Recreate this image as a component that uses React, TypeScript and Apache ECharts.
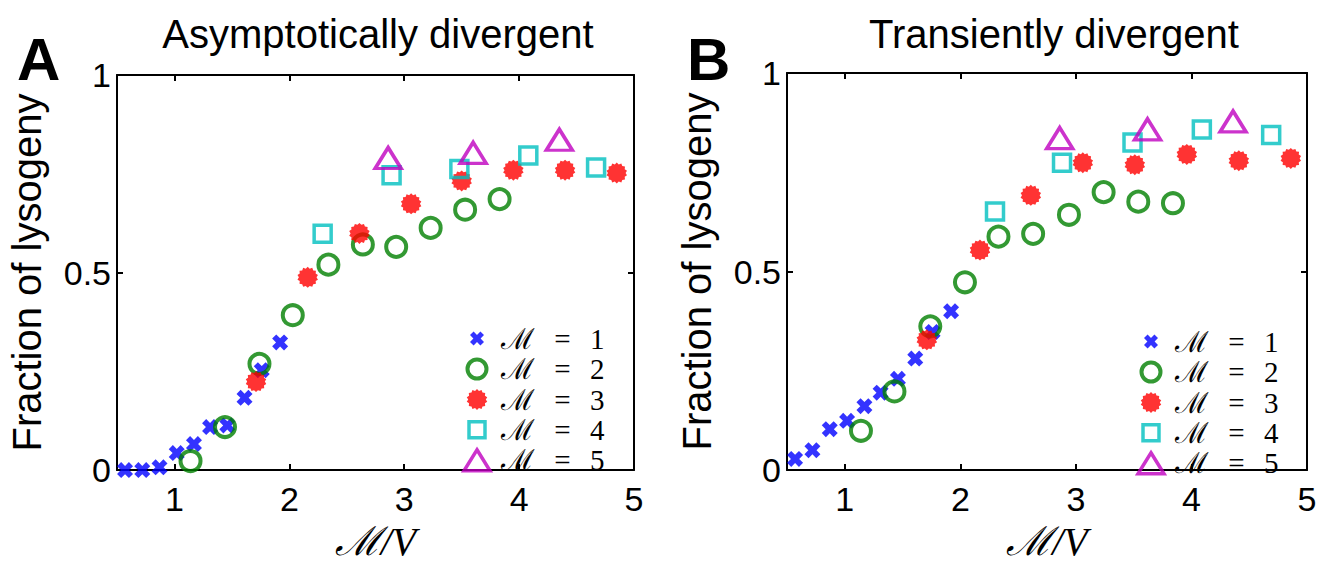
import React, { useEffect, useRef } from "react";
import * as echarts from "echarts";

// ---------- data ----------
const seriesNames = ["ℳ = 1", "ℳ = 2", "ℳ = 3", "ℳ = 4", "ℳ = 5"];
const xTicks = [1, 2, 3, 4, 5];

// Panel A: Asymptotically divergent
const a_m1_x = [0.57, 0.72, 0.87, 1.02, 1.17, 1.31, 1.46, 1.61, 1.76, 1.92];
const a_m1_y = [0.0, 0.0, 0.007, 0.043, 0.066, 0.109, 0.113, 0.183, 0.253, 0.323];
const a_m2_x = [1.14, 1.44, 1.74, 2.03, 2.34, 2.64, 2.93, 3.23, 3.53, 3.83];
const a_m2_y = [0.023, 0.109, 0.269, 0.392, 0.52, 0.571, 0.565, 0.613, 0.659, 0.686];
const a_m3_x = [1.71, 2.16, 2.61, 3.06, 3.5, 3.95, 4.4, 4.85];
const a_m3_y = [0.224, 0.488, 0.599, 0.674, 0.732, 0.759, 0.759, 0.752];
const a_m4_x = [2.29, 2.89, 3.48, 4.08, 4.67];
const a_m4_y = [0.598, 0.746, 0.762, 0.796, 0.766];
const a_m5_x = [2.86, 3.6, 4.35];
const a_m5_y = [0.79, 0.803, 0.836];

// Panel B: Transiently divergent
const b_m1_x = [0.57, 0.72, 0.87, 1.02, 1.17, 1.31, 1.46, 1.61, 1.76, 1.92];
const b_m1_y = [0.028, 0.05, 0.103, 0.124, 0.161, 0.195, 0.23, 0.281, 0.348, 0.4];
const b_m2_x = [1.14, 1.43, 1.74, 2.04, 2.33, 2.63, 2.94, 3.24, 3.54, 3.84];
const b_m2_y = [0.099, 0.198, 0.362, 0.473, 0.588, 0.595, 0.643, 0.7, 0.676, 0.672];
const b_m3_x = [1.71, 2.17, 2.61, 3.06, 3.51, 3.96, 4.41, 4.86];
const b_m3_y = [0.328, 0.554, 0.692, 0.774, 0.769, 0.795, 0.779, 0.785];
const b_m4_x = [2.3, 2.88, 3.49, 4.09, 4.69];
const b_m4_y = [0.651, 0.774, 0.825, 0.858, 0.844];
const b_m5_x = [2.86, 3.62, 4.36];
const b_m5_y = [0.836, 0.858, 0.878];

// ---------- styling ----------
const SANS = "'Liberation Sans', Arial, Helvetica, sans-serif";
const SERIF = "'Liberation Serif', 'DejaVu Serif', serif";

const BLUE = "#0000ff";
const GREEN = "#007f00";
const RED = "#ff0000";
const CYAN = "#00bfbf";
const MAGENTA = "#bf00bf";

const crossPath =
  "path://M0,3.6L3.6,0L7,3.4L10.4,0L14,3.6L10.6,7L14,10.4L10.4,14L7,10.6L3.6,14L0,10.4L3.4,7Z";

function burst(cx: number, cy: number, R: number, r: number): string {
  const n = 14;
  const pts: string[] = [];
  for (let i = 0; i < n * 2; i++) {
    const rad = i % 2 === 0 ? R : r;
    const a = (Math.PI * i) / n;
    pts.push(`${(cx + rad * Math.sin(a)).toFixed(2)},${(cy - rad * Math.cos(a)).toFixed(2)}`);
  }
  return "M" + pts.join("L") + "Z";
}

// legend icons drawn in a 30x26 box (corner moveTo points fix the box)
const BOX = "M0,0M30,26";
const legendIcons = [
  `path://${BOX}M8,9.6L11.6,6L15,9.4L18.4,6L22,9.6L18.6,13L22,16.4L18.4,20L15,16.6L11.6,20L8,16.4L11.4,13Z`,
  `path://${BOX}M5.5,13A9.5,9.5 0 1 1 24.5,13A9.5,9.5 0 1 1 5.5,13Z`,
  `path://${BOX}${burst(15, 13, 10.5, 8.8)}`,
  `path://${BOX}M7,5L23,5L23,21L7,21Z`,
  `path://${BOX}M15,2.5L28,23.5L2,23.5Z`,
];

const styles = [
  { symbol: crossPath, symbolSize: 16, itemStyle: { color: BLUE } },
  {
    symbol: "circle",
    symbolSize: 20,
    itemStyle: { color: "rgba(255,255,255,0)", borderColor: GREEN, borderWidth: 4 },
  },
  { symbol: "path://" + burst(10, 10, 10, 8.4), symbolSize: 21, itemStyle: { color: RED } },
  {
    symbol: "rect",
    symbolSize: 17,
    itemStyle: { color: "rgba(255,255,255,0)", borderColor: CYAN, borderWidth: 3.5 },
  },
  {
    symbol: "triangle",
    symbolSize: [26, 21],
    itemStyle: { color: "rgba(255,255,255,0)", borderColor: MAGENTA, borderWidth: 3.5 },
  },
];

const legendItemStyles = [
  { color: BLUE, borderWidth: 0 },
  { color: "rgba(255,255,255,0)", borderColor: GREEN, borderWidth: 4 },
  { color: RED, borderWidth: 0 },
  { color: "rgba(255,255,255,0)", borderColor: CYAN, borderWidth: 3.5 },
  { color: "rgba(255,255,255,0)", borderColor: MAGENTA, borderWidth: 3.5 },
];

const zip = (xs: number[], ys: number[]) => xs.map((x, i) => [x, ys[i]]);

const panelA = [
  zip(a_m1_x, a_m1_y),
  zip(a_m2_x, a_m2_y),
  zip(a_m3_x, a_m3_y),
  zip(a_m4_x, a_m4_y),
  zip(a_m5_x, a_m5_y),
];
const panelB = [
  zip(b_m1_x, b_m1_y),
  zip(b_m2_x, b_m2_y),
  zip(b_m3_x, b_m3_y),
  zip(b_m4_x, b_m4_y),
  zip(b_m5_x, b_m5_y),
];

const axisLine = { show: true, onZero: false, lineStyle: { color: "#000", width: 2 } };
const tickStyle = { width: 2, color: "#000" };

function xAxes(gridIndex: number) {
  return [
    {
      type: "value",
      gridIndex,
      position: "bottom",
      min: 0.5,
      max: 5,
      axisLine,
      axisTick: { show: true, inside: true, length: 6, customValues: xTicks, lineStyle: tickStyle },
      axisLabel: { customValues: xTicks, fontSize: 34, color: "#000", fontFamily: SANS, margin: 12 },
      splitLine: { show: false },
      name: "ℳ/V",
      nameLocation: "middle",
      nameGap: 46,
      nameTextStyle: { fontSize: 40, fontStyle: "italic", fontFamily: SERIF, color: "#000" },
    },
    {
      type: "value",
      gridIndex,
      position: "top",
      min: 0.5,
      max: 5,
      axisLine,
      axisTick: { show: true, inside: true, length: 6, customValues: xTicks, lineStyle: tickStyle },
      axisLabel: { show: false },
      splitLine: { show: false },
    },
  ];
}

function yAxes(gridIndex: number) {
  return [
    {
      type: "value",
      gridIndex,
      position: "left",
      min: 0,
      max: 1,
      interval: 0.5,
      axisLine,
      axisTick: { show: true, inside: true, length: 6, lineStyle: tickStyle },
      axisLabel: { fontSize: 34, color: "#000", fontFamily: SANS, margin: 6 },
      splitLine: { show: false },
      name: "Fraction of lysogeny",
      nameLocation: "middle",
      nameGap: 70,
      nameRotate: 90,
      nameTextStyle: { fontSize: 40, fontFamily: SANS, color: "#000" },
    },
    {
      type: "value",
      gridIndex,
      position: "right",
      min: 0,
      max: 1,
      interval: 0.5,
      axisLine,
      axisTick: { show: true, inside: true, length: 6, lineStyle: tickStyle },
      axisLabel: { show: false },
      splitLine: { show: false },
    },
  ];
}

function makeSeries(data: number[][][], axisIndex: number) {
  return data.map((d, i) => ({
    type: "scatter",
    name: seriesNames[i],
    xAxisIndex: axisIndex,
    yAxisIndex: axisIndex,
    data: d,
    symbol: styles[i].symbol,
    symbolSize: styles[i].symbolSize,
    symbolKeepAspect: true,
    itemStyle: styles[i].itemStyle,
    z: 2 + i,
  }));
}

function legend(left: number, top: number) {
  return {
    show: true,
    orient: "vertical",
    left,
    top,
    align: "left",
    itemWidth: 30,
    itemHeight: 26,
    itemGap: 1,
    padding: 0,
    selectedMode: false,
    data: seriesNames.map((name, i) => ({
      name,
      icon: legendIcons[i],
      itemStyle: legendItemStyles[i],
    })),
    formatter: (name: string) => name.replace(/ /g, "\u2002\u2006"),
    textStyle: { fontSize: 29, fontFamily: SERIF, color: "#000", padding: [0, 0, 0, 4] },
  };
}

export default function App() {
  const ref = useRef<HTMLDivElement>(null);
  useEffect(() => {
    document.body.style.margin = "0";
    const chart = echarts.init(ref.current!, undefined, { renderer: "svg" });
    chart.setOption({
      animation: false,
      backgroundColor: "#fff",
      title: [
        {
          text: "Asymptotically divergent",
          left: 373,
          top: 9,
          textAlign: "center",
          textStyle: { fontSize: 40, fontWeight: "normal", fontFamily: SANS, color: "#000" },
        },
        {
          text: "Transiently divergent",
          left: 1049,
          top: 9,
          textAlign: "center",
          textStyle: { fontSize: 40, fontWeight: "normal", fontFamily: SANS, color: "#000" },
        },
        {
          text: "A",
          left: 12,
          top: 24,
          textStyle: { fontSize: 60, fontWeight: "bold", fontFamily: SANS, color: "#000" },
        },
        {
          text: "B",
          left: 682,
          top: 24,
          textStyle: { fontSize: 60, fontWeight: "bold", fontFamily: SANS, color: "#000" },
        },
      ],
      legend: [legend(460, 324), legend(1134, 327)],
      grid: [
        { left: 117, top: 75, width: 517, height: 406 },
        { left: 787, top: 73, width: 520, height: 412 },
      ],
      xAxis: [...xAxes(0), ...xAxes(1)],
      yAxis: [...yAxes(0), ...yAxes(1)],
      series: [...makeSeries(panelA, 0), ...makeSeries(panelB, 2)],
    });
    return () => chart.dispose();
  }, []);
  return <div ref={ref} style={{ width: 1328, height: 566, position: "absolute", left: 0, top: 0 }} />;
}
